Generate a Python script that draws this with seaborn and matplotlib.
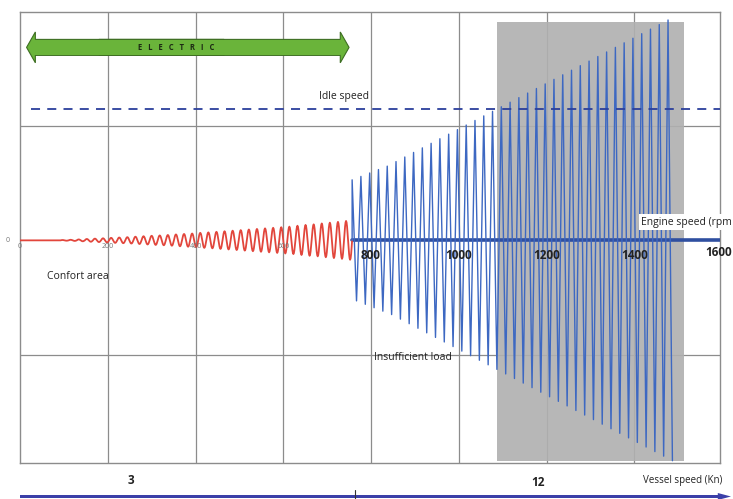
import numpy as np
import pandas as pd
import matplotlib
matplotlib.use("Agg")
import matplotlib.pyplot as plt
import seaborn as sns
from matplotlib.patches import FancyArrow, Rectangle

# engine speed axis (rpm)
rpm_ticks = [0, 200, 400, 600, 800, 1000, 1200, 1400, 1600]
small_ticks = ["0", "200", "400", "600"]
big_ticks = ["800", "1000", "1200", "1400", "1600"]

# red part: comfort area, peak amplitude per cycle
red_start, red_end = 0, 757
red_amp = [0, 0, 0, 0, 0, 0.003, 0.005, 0.008,
           0.012, 0.015, 0.018, 0.022, 0.025,
           0.028, 0.032, 0.036, 0.04, 0.043, 0.047,
           0.052, 0.056, 0.06, 0.066, 0.07,
           0.075, 0.08, 0.085, 0.09, 0.095, 0.1,
           0.105, 0.11, 0.115, 0.12, 0.128, 0.135,
           0.14, 0.148, 0.155, 0.162, 0.17]

# blue part: insufficient load, peak amplitude per cycle
blue_start, blue_end = 757, 1497
blue_amp = [0.53, 0.56, 0.59, 0.62, 0.65, 0.69, 0.73, 0.77, 0.81,
            0.85, 0.89, 0.93, 0.97, 1.01, 1.05, 1.09, 1.13, 1.17,
            1.21, 1.25, 1.29, 1.33, 1.37, 1.41, 1.45, 1.49, 1.53,
            1.57, 1.61, 1.65, 1.69, 1.73, 1.77, 1.81, 1.85, 1.89, 1.93]

idle_speed = 1.15
shade_rpm = (1087, 1513)
shade_y = (-1.93, 1.91)
vessel_labels = ["3", "12"]


def red_wave(amps, x0, x1, n=16):
    per = (x1 - x0) / len(amps)
    xs, ys = [], []
    for i, a in enumerate(amps):
        t = np.linspace(0, 1, n, endpoint=False)
        xs.extend(x0 + (i + t) * per)
        ys.extend(a * np.sin(2 * np.pi * t))
    xs.append(x1)
    ys.append(0)
    return pd.DataFrame({"rpm": xs, "val": ys})


def zigzag(amps, x0, x1):
    per = (x1 - x0) / len(amps)
    xs, ys = [x0], [0]
    for i, a in enumerate(amps):
        xs += [x0 + i * per, x0 + (i + 0.5) * per]
        ys += [a, -a]
    return pd.DataFrame({"rpm": xs, "val": ys})


sns.set_style("white")
plt.rcParams["font.family"] = ["Open Sans", "DejaVu Sans"]

fig = plt.figure(figsize=(7.33, 4.99), dpi=100)
ax = fig.add_axes([20 / 733, 1 - 463 / 499, 700 / 733, 451 / 499])
ax.set_xlim(0, 1600 * 700 / 702)
ax.set_ylim(-1.95, 2.0)

for x in rpm_ticks[1:-1]:
    ax.axvline(x, color="#8c8c8c", lw=0.9, zorder=1)
for y in [-1, 1]:
    ax.axhline(y, color="#8c8c8c", lw=0.9, zorder=1)
for s in ax.spines.values():
    s.set_color("#8c8c8c")
    s.set_linewidth(1.0)
ax.set_xticks([])
ax.set_yticks([])

ax.add_patch(Rectangle((shade_rpm[0], shade_y[0]), shade_rpm[1] - shade_rpm[0],
                       shade_y[1] - shade_y[0], color="#b0b0b0", alpha=0.9, lw=0, zorder=2))

# engine speed axis line
ax.plot([red_end, 1600], [0, 0], color="#2f4fa0", lw=2.6, zorder=4)

sns.lineplot(data=red_wave(red_amp, red_start, red_end), x="rpm", y="val", ax=ax,
             color="#e2463c", lw=1.3, estimator=None, sort=False, zorder=5)
sns.lineplot(data=zigzag(blue_amp, blue_start, blue_end), x="rpm", y="val", ax=ax,
             color="#3d68c2", lw=1.0, estimator=None, sort=False, zorder=5)

ax.axhline(idle_speed, xmin=0.015, xmax=1.0, color="#2b3f9c", lw=1.3,
           ls=(0, (5, 4)), zorder=6)

# tick labels on the engine axis
for x, lab in zip(rpm_ticks[:4], small_ticks):
    ax.text(x, -0.05, lab, ha="center", va="center", fontsize=5, color="#777777", zorder=7)
for x, lab in zip(rpm_ticks[4:-1], big_ticks[:-1]):
    ax.text(x, -0.13, lab, ha="center", va="center", fontsize=8.5, fontweight="bold",
            color="#222222", zorder=7)
fig.text(732 / 733, 1 - 253 / 499, big_ticks[-1], ha="right", va="center", fontsize=8.5,
         fontweight="bold", color="#222222")
ax.text(-28, 0, "0", ha="center", va="center", fontsize=5, color="#777777", clip_on=False)

fig.text(732 / 733, 1 - 222 / 499, "Engine speed (rpm", ha="right", va="center",
         fontsize=7.5, color="#222222", zorder=8,
         bbox=dict(facecolor="white", edgecolor="none", pad=1.5))
ax.text(62, -0.32, "Confort area", ha="left", va="center", fontsize=7.5, color="#222222")
ax.text(682, 1.26, "Idle speed", ha="left", va="center", fontsize=7.5, color="#222222")
ax.text(806, -1.03, "Insufficient load", ha="left", va="center", fontsize=7.5, color="#222222")

# electric arrow
green, dark_green = "#6ab43a", "#3d6e22"
ax.add_patch(FancyArrow(180, 1.69, 570, 0, width=0.14, head_width=0.27, head_length=20,
                        length_includes_head=True, color=green, ec=dark_green, lw=0.8, zorder=7))
ax.add_patch(FancyArrow(465, 1.69, -450, 0, width=0.14, head_width=0.27, head_length=20,
                        length_includes_head=True, color=green, ec=dark_green, lw=0.8, zorder=7))
ax.add_patch(Rectangle((30, 1.625), 700, 0.13, color=green, lw=0, zorder=8))
ax.text(355, 1.69, "E   L   E   C   T   R   I   C", ha="center", va="center", fontsize=5.5,
        fontweight="bold", color="#1d2a14", zorder=9)

# vessel speed axis under the chart
fig.text(131 / 733, 1 - 481 / 499, vessel_labels[0], ha="center", va="center",
         fontsize=8.5, fontweight="bold", color="#222222")
fig.text(538 / 733, 1 - 483 / 499, vessel_labels[1], ha="center", va="center",
         fontsize=8.5, fontweight="bold", color="#222222")
fig.text(722 / 733, 1 - 481 / 499, "Vessel speed (Kn)", ha="right", va="center",
         fontsize=7, color="#222222")
fig.patches.append(FancyArrow(20 / 733, 1 - 496.5 / 499, 711 / 733, 0, width=0.006,
                              head_width=0.014, head_length=0.018, length_includes_head=True,
                              color="#3b3fa8", lw=0, transform=fig.transFigure, figure=fig))
fig.lines.append(plt.Line2D([355 / 733, 355 / 733], [1 - 490 / 499, 1 - 499 / 499],
                            color="#333333", lw=0.8, transform=fig.transFigure, figure=fig))

fig.savefig("out.png", dpi=100)
